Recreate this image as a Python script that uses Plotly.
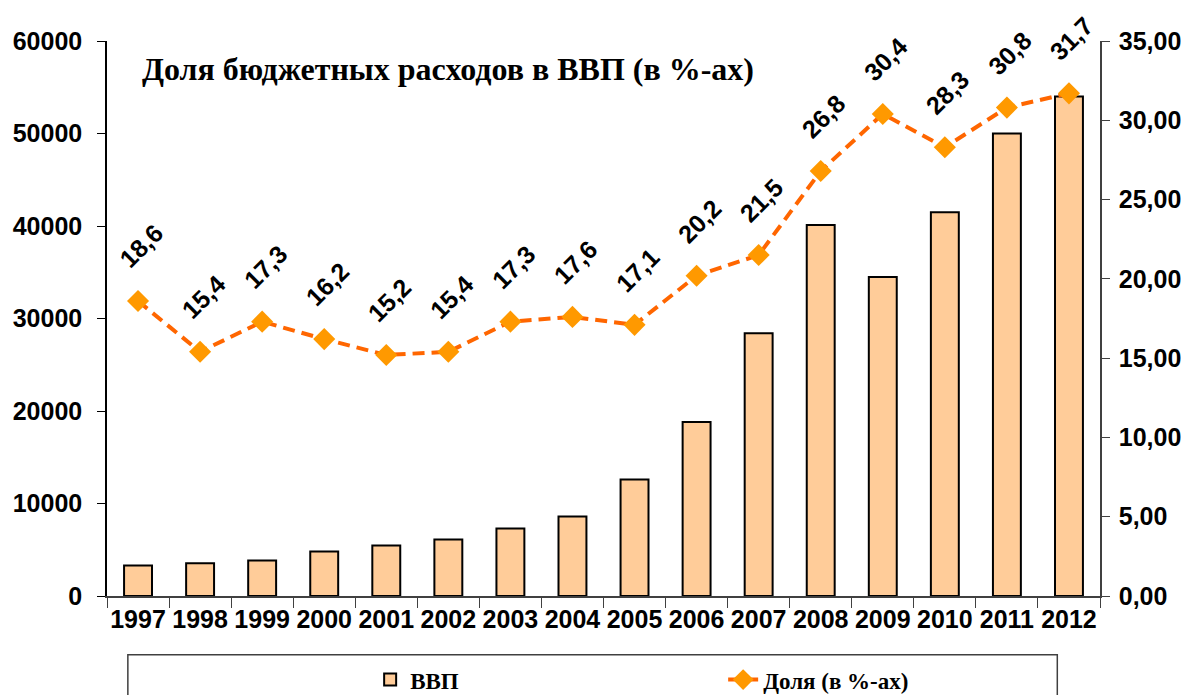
import plotly.graph_objects as go

years = ["1997", "1998", "1999", "2000", "2001", "2002", "2003", "2004",
         "2005", "2006", "2007", "2008", "2009", "2010", "2011", "2012"]
gdp = [3300, 3550, 3850, 4800, 5450, 6100, 7300, 8600,
       12600, 18800, 28400, 40100, 34500, 41500, 50000, 54000]
share = [18.6, 15.4, 17.3, 16.2, 15.2, 15.4, 17.3, 17.6,
         17.1, 20.2, 21.5, 26.8, 30.4, 28.3, 30.8, 31.7]
title_text = "Доля бюджетных расходов в ВВП (в %-ах)"
bar_name = "ВВП"
line_name = "Доля (в %-ах)"

AR = "Arial, Liberation Sans, sans-serif"
SERIF = "Times New Roman, Liberation Serif, serif"

fig = go.Figure()
fig.add_trace(go.Bar(
    x=years, y=gdp, name=bar_name,
    marker=dict(color="#FFCC99", line=dict(color="black", width=2)),
    yaxis="y",
))
fig.add_trace(go.Scatter(
    x=years, y=share, name=line_name, mode="lines+markers",
    line=dict(color="#FF6600", width=4, dash="12px,7px"),
    marker=dict(symbol="diamond", color="#FF9900", size=17),
    yaxis="y2",
))

for i, v in enumerate(share):
    fig.add_annotation(
        x=i, y=v, xref="x", yref="y2",
        text=f"{v:.1f}".replace(".", ","),
        showarrow=False, textangle=-45,
        yshift=55, xshift=3,
        font=dict(family=AR, size=25, color="black", weight="bold"),
    )

fig.add_annotation(
    x=0.033, y=0.95, xref="paper", yref="paper", xanchor="left", yanchor="middle",
    text=title_text, showarrow=False,
    font=dict(family=SERIF, size=32, color="black", weight="bold"),
)

# legend frame
fig.add_shape(type="rect", xref="paper", yref="paper",
              x0=0.021, x1=0.957, y0=-0.25, y1=-0.106,
              line=dict(color="#404040", width=1.5), fillcolor="rgba(0,0,0,0)")

fig.update_layout(
    width=1195, height=695,
    margin=dict(l=107, r=95, t=41, b=99, autoexpand=False),
    paper_bgcolor="white", plot_bgcolor="white",
    separators=", ",
    bargap=0.55,
    showlegend=True,
    legend=dict(
        orientation="h", x=0.265, xanchor="left", y=-0.112, yanchor="top",
        font=dict(family=SERIF, size=23, color="black", weight="bold"),
        entrywidth=308, entrywidthmode="pixels",
        bgcolor="rgba(0,0,0,0)", borderwidth=0,
    ),
    xaxis=dict(
        type="category", categoryorder="array", categoryarray=years,
        range=[-0.5, len(years) - 0.5], autorange=False, automargin=False,
        tickson="boundaries", ticks="outside", ticklen=10, tickangle=0,
        tickcolor="#404040", showline=True, linecolor="#404040", linewidth=1.5,
        tickfont=dict(family=AR, size=25, color="black", weight="bold"),
        showgrid=False, zeroline=False,
    ),
    yaxis=dict(
        range=[0, 60000], dtick=10000, tickformat="d", automargin=False,
        ticks="outside", ticklen=8, tickcolor="black",
        showline=True, linecolor="black", linewidth=1.5,
        tickfont=dict(family=AR, size=25, color="black", weight="bold"),
        ticklabelstandoff=10,
        showgrid=False, zeroline=False,
    ),
    yaxis2=dict(
        range=[0, 35], dtick=5, tickformat=".2f", overlaying="y", side="right",
        automargin=False,
        ticks="outside", ticklen=8, tickcolor="#404040",
        showline=True, linecolor="#404040", linewidth=1.5,
        tickfont=dict(family=AR, size=25, color="black", weight="bold"),
        ticklabelstandoff=4,
        showgrid=False, zeroline=False,
    ),
)

fig.write_html(
    "out.html",
    config={"displayModeBar": False},
    post_script="document.body.style.margin='0';document.body.style.padding='0';"
                "document.body.style.overflow='hidden';",
)
